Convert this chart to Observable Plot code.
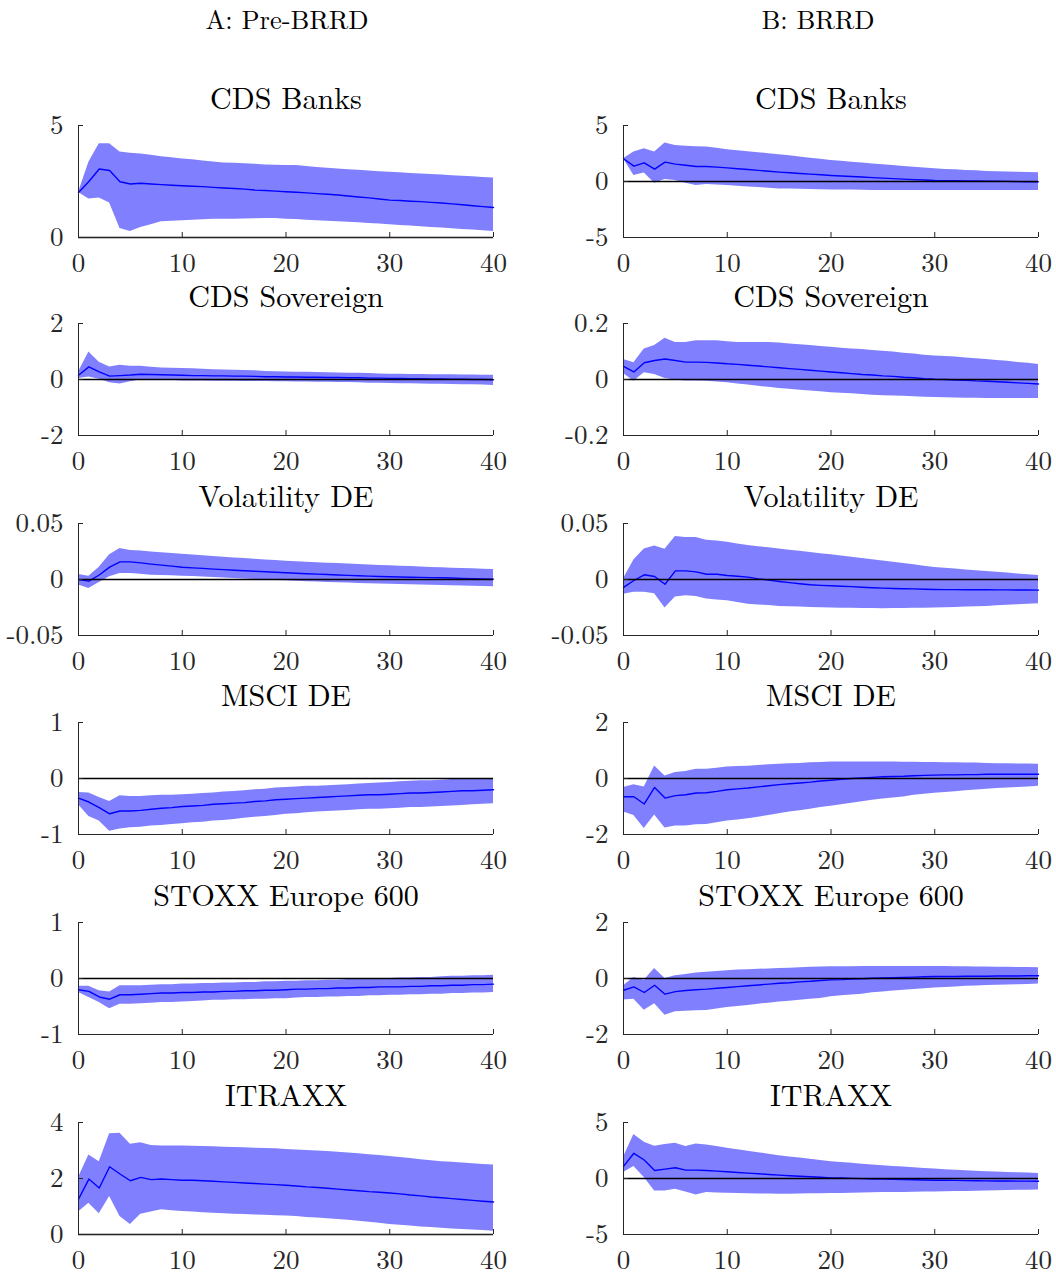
<!DOCTYPE html>
<html>
<head>
<meta charset="utf-8">
<script src="https://cdn.jsdelivr.net/npm/d3@7"></script>
<script src="https://cdn.jsdelivr.net/npm/@observablehq/plot@0.6"></script>
<style>
  html, body { margin: 0; padding: 0; background: #fff; }
  #wrap { position: relative; width: 1056px; height: 1272px; background: #fff; overflow: hidden; }
  .colhead { position: absolute; top: 3px; font-family: "Latin Modern Roman", "Liberation Serif", serif; font-size: 26.5px; line-height: 30px; color: #000; white-space: nowrap; transform: translateX(-50%); }
  .panel { position: absolute; }
</style>
</head>
<body>
<div id="wrap"></div>
<script>
// ---------- DATA ----------
const horizon = d3.range(0, 41);
const xTicks = [0, 10, 20, 30, 40];
const columnTitles = ["A: Pre-BRRD", "B: BRRD"];
const panelTitles = ["CDS Banks", "CDS Sovereign", "Volatility DE", "MSCI DE", "STOXX Europe 600", "ITRAXX"];
const yTicksPre  = [[0, 5], [-2, 0, 2], [-0.05, 0, 0.05], [-1, 0, 1], [-1, 0, 1], [0, 2, 4]];
const yTicksPost = [[-5, 0, 5], [-0.2, 0, 0.2], [-0.05, 0, 0.05], [-2, 0, 2], [-2, 0, 2], [-5, 0, 5]];

// CDS Banks, Pre-BRRD
const cdsBanksPreMean = [2.01,2.50,3.06,2.99,2.49,2.39,2.42,2.39,2.36,2.33,2.31,2.29,2.27,2.24,2.21,2.19,2.16,2.12,2.10,2.07,2.04,2.02,1.99,1.96,1.93,1.90,1.85,1.81,1.77,1.72,1.67,1.65,1.62,1.60,1.57,1.54,1.50,1.46,1.42,1.38,1.34];
const cdsBanksPreHi = [2.01,3.36,4.18,4.18,3.82,3.76,3.73,3.67,3.61,3.56,3.51,3.47,3.42,3.37,3.33,3.31,3.29,3.27,3.24,3.22,3.21,3.21,3.17,3.13,3.09,3.06,3.03,3.00,2.97,2.94,2.91,2.89,2.86,2.84,2.81,2.79,2.76,2.73,2.71,2.68,2.66];
const cdsBanksPreLo = [2.01,1.72,1.76,1.54,0.40,0.27,0.45,0.57,0.70,0.72,0.75,0.77,0.79,0.81,0.82,0.82,0.83,0.84,0.85,0.85,0.82,0.80,0.77,0.75,0.72,0.70,0.68,0.66,0.63,0.60,0.57,0.54,0.51,0.48,0.45,0.42,0.39,0.36,0.33,0.30,0.27];
// CDS Banks, BRRD
const cdsBanksPostMean = [2.03,1.37,1.67,1.10,1.73,1.55,1.45,1.34,1.34,1.28,1.22,1.14,1.07,0.99,0.92,0.84,0.78,0.72,0.66,0.60,0.54,0.49,0.44,0.40,0.35,0.30,0.26,0.21,0.17,0.13,0.09,0.08,0.07,0.05,0.04,0.03,0.02,0.01,-0.01,-0.02,-0.03];
const cdsBanksPostHi = [2.03,2.63,2.93,2.63,3.43,3.22,3.15,3.10,3.07,2.96,2.84,2.75,2.66,2.57,2.48,2.39,2.29,2.19,2.08,1.98,1.88,1.80,1.72,1.65,1.57,1.49,1.42,1.35,1.27,1.20,1.13,1.08,1.04,0.99,0.95,0.90,0.88,0.85,0.83,0.80,0.78];
const cdsBanksPostLo = [2.03,0.54,0.75,-0.15,0.18,0.09,-0.15,-0.36,-0.27,-0.31,-0.36,-0.42,-0.48,-0.54,-0.60,-0.66,-0.68,-0.70,-0.72,-0.74,-0.75,-0.76,-0.77,-0.78,-0.80,-0.81,-0.81,-0.81,-0.81,-0.81,-0.81,-0.81,-0.81,-0.81,-0.81,-0.81,-0.81,-0.81,-0.81,-0.81,-0.81];
// CDS Sovereign, Pre-BRRD
const cdsSovPreMean = [0.15,0.45,0.27,0.12,0.14,0.16,0.19,0.18,0.17,0.16,0.15,0.14,0.14,0.13,0.13,0.12,0.12,0.11,0.10,0.10,0.09,0.09,0.08,0.08,0.07,0.07,0.06,0.06,0.05,0.05,0.04,0.04,0.03,0.03,0.02,0.02,0.01,0.01,0.00,0.00,-0.01];
const cdsSovPreHi = [0.27,0.98,0.62,0.45,0.51,0.47,0.47,0.44,0.41,0.40,0.39,0.38,0.37,0.35,0.34,0.33,0.32,0.31,0.29,0.28,0.27,0.26,0.26,0.25,0.24,0.23,0.22,0.22,0.21,0.20,0.19,0.19,0.18,0.18,0.17,0.17,0.17,0.16,0.16,0.15,0.15];
const cdsSovPreLo = [0.04,0.09,0.01,-0.12,-0.16,-0.08,-0.02,-0.02,-0.02,-0.03,-0.05,-0.05,-0.05,-0.06,-0.06,-0.06,-0.07,-0.07,-0.07,-0.08,-0.08,-0.09,-0.09,-0.10,-0.10,-0.11,-0.11,-0.12,-0.13,-0.13,-0.14,-0.15,-0.15,-0.16,-0.17,-0.17,-0.18,-0.19,-0.19,-0.20,-0.21];
// CDS Sovereign, BRRD
const cdsSovPostMean = [0.047,0.027,0.060,0.068,0.073,0.068,0.062,0.062,0.061,0.059,0.056,0.054,0.051,0.048,0.045,0.042,0.039,0.036,0.033,0.030,0.027,0.024,0.021,0.018,0.016,0.013,0.011,0.008,0.006,0.003,0.001,0.000,-0.002,-0.003,-0.005,-0.006,-0.008,-0.010,-0.012,-0.014,-0.016];
const cdsSovPostHi = [0.071,0.060,0.109,0.121,0.147,0.132,0.132,0.138,0.138,0.138,0.135,0.132,0.132,0.132,0.132,0.130,0.127,0.124,0.121,0.118,0.115,0.112,0.109,0.107,0.104,0.101,0.098,0.094,0.091,0.087,0.084,0.082,0.080,0.077,0.074,0.071,0.068,0.065,0.061,0.058,0.054];
const cdsSovPostLo = [0.021,-0.006,0.024,0.018,0.004,-0.002,-0.005,-0.005,-0.006,-0.009,-0.012,-0.016,-0.020,-0.024,-0.028,-0.032,-0.035,-0.038,-0.041,-0.044,-0.047,-0.049,-0.051,-0.054,-0.056,-0.058,-0.059,-0.060,-0.062,-0.063,-0.064,-0.065,-0.066,-0.067,-0.067,-0.068,-0.068,-0.068,-0.068,-0.068,-0.068];
// Volatility DE, Pre-BRRD
const volPreMean = [0.0,-0.0015,0.004,0.011,0.0157,0.0157,0.0148,0.0137,0.0128,0.0119,0.011,0.0104,0.0099,0.0093,0.0088,0.0083,0.0078,0.0074,0.0069,0.0065,0.006,0.0056,0.0052,0.0048,0.0044,0.004,0.0037,0.0034,0.003,0.0027,0.0024,0.0022,0.002,0.0019,0.0017,0.0015,0.0013,0.001,0.0008,0.0005,0.0003];
const volPreHi = [0.0045,0.003,0.011,0.022,0.0276,0.026,0.0255,0.0246,0.0239,0.0232,0.0225,0.0219,0.0212,0.0206,0.0199,0.0193,0.0187,0.0181,0.0175,0.0169,0.0163,0.0159,0.0155,0.015,0.0146,0.0142,0.0138,0.0134,0.013,0.0126,0.0122,0.0118,0.0115,0.0111,0.0108,0.0104,0.0101,0.0098,0.0095,0.0092,0.0089];
const volPreLo = [-0.005,-0.008,-0.0027,0.0024,0.0053,0.0053,0.0047,0.0039,0.0036,0.0033,0.003,0.0026,0.0022,0.0017,0.0013,0.0009,0.0005,0.0,-0.0004,-0.0008,-0.0012,-0.0016,-0.0019,-0.0023,-0.0026,-0.003,-0.0032,-0.0035,-0.0037,-0.004,-0.0042,-0.0044,-0.0046,-0.0049,-0.0051,-0.0053,-0.0055,-0.0058,-0.006,-0.0063,-0.0065];
// Volatility DE, BRRD
const volPostMean = [-0.0071,-0.0009,0.0042,0.0027,-0.0042,0.0077,0.0077,0.0068,0.0047,0.0047,0.0036,0.0029,0.0021,0.0006,-0.0006,-0.0018,-0.0028,-0.0038,-0.0047,-0.0052,-0.0056,-0.006,-0.0064,-0.0069,-0.0073,-0.0077,-0.008,-0.0082,-0.0084,-0.0087,-0.0089,-0.009,-0.009,-0.0091,-0.0091,-0.0092,-0.0093,-0.0093,-0.0094,-0.0094,-0.0095];
const volPostHi = [0.0006,0.0175,0.0273,0.030,0.027,0.0383,0.0374,0.0374,0.035,0.0344,0.0332,0.0318,0.0303,0.0293,0.0283,0.0273,0.0262,0.0252,0.0241,0.0231,0.022,0.0209,0.0198,0.0188,0.0177,0.0166,0.0154,0.0142,0.0131,0.0119,0.0107,0.01,0.0093,0.0085,0.0078,0.0071,0.0064,0.0057,0.005,0.0043,0.0036];
const volPostLo = [-0.0131,-0.0113,-0.0113,-0.0128,-0.0255,-0.0157,-0.0145,-0.0151,-0.0175,-0.0182,-0.019,-0.0205,-0.022,-0.0227,-0.0233,-0.024,-0.0243,-0.0246,-0.0249,-0.0252,-0.0255,-0.0256,-0.0257,-0.0259,-0.026,-0.0261,-0.026,-0.0259,-0.0257,-0.0256,-0.0255,-0.0252,-0.0249,-0.0246,-0.0243,-0.024,-0.0235,-0.0231,-0.0226,-0.0222,-0.0217];
// MSCI DE, Pre-BRRD
const msciPreMean = [-0.35,-0.42,-0.52,-0.63,-0.58,-0.58,-0.57,-0.55,-0.53,-0.52,-0.50,-0.49,-0.48,-0.46,-0.45,-0.44,-0.43,-0.41,-0.40,-0.38,-0.37,-0.36,-0.35,-0.34,-0.33,-0.32,-0.31,-0.30,-0.29,-0.29,-0.28,-0.27,-0.26,-0.26,-0.25,-0.24,-0.23,-0.22,-0.22,-0.21,-0.20];
const msciPreHi = [-0.25,-0.26,-0.34,-0.41,-0.31,-0.32,-0.32,-0.31,-0.30,-0.30,-0.29,-0.28,-0.27,-0.26,-0.24,-0.23,-0.22,-0.20,-0.19,-0.17,-0.16,-0.15,-0.14,-0.14,-0.13,-0.12,-0.11,-0.10,-0.09,-0.08,-0.07,-0.06,-0.05,-0.04,-0.04,-0.03,-0.02,-0.02,-0.01,-0.01,0.00];
const msciPreLo = [-0.47,-0.68,-0.76,-0.94,-0.90,-0.88,-0.87,-0.85,-0.84,-0.82,-0.81,-0.79,-0.78,-0.76,-0.75,-0.73,-0.71,-0.69,-0.68,-0.66,-0.64,-0.63,-0.61,-0.60,-0.59,-0.58,-0.57,-0.56,-0.55,-0.55,-0.54,-0.53,-0.52,-0.52,-0.51,-0.50,-0.49,-0.48,-0.47,-0.46,-0.45];
// MSCI DE, BRRD
const msciPostMean = [-0.65,-0.65,-0.91,-0.32,-0.70,-0.61,-0.58,-0.52,-0.51,-0.46,-0.40,-0.37,-0.34,-0.30,-0.26,-0.22,-0.19,-0.16,-0.13,-0.09,-0.06,-0.03,0.00,0.02,0.04,0.06,0.07,0.08,0.10,0.11,0.12,0.13,0.13,0.14,0.14,0.15,0.15,0.15,0.15,0.15,0.15];
const msciPostHi = [-0.32,-0.22,-0.30,0.45,0.09,0.21,0.25,0.33,0.33,0.37,0.41,0.43,0.44,0.46,0.49,0.51,0.53,0.54,0.56,0.57,0.59,0.59,0.59,0.59,0.59,0.59,0.59,0.58,0.58,0.57,0.57,0.56,0.56,0.55,0.55,0.54,0.53,0.53,0.52,0.52,0.51];
const msciPostLo = [-1.20,-1.32,-1.79,-1.30,-1.77,-1.70,-1.70,-1.65,-1.64,-1.58,-1.52,-1.48,-1.44,-1.38,-1.32,-1.26,-1.20,-1.15,-1.10,-1.04,-0.99,-0.94,-0.88,-0.83,-0.78,-0.73,-0.70,-0.66,-0.60,-0.56,-0.53,-0.50,-0.47,-0.44,-0.41,-0.38,-0.36,-0.34,-0.32,-0.30,-0.28];
// STOXX Europe 600, Pre-BRRD
const stoxxPreMean = [-0.20,-0.23,-0.33,-0.37,-0.29,-0.29,-0.28,-0.27,-0.26,-0.26,-0.25,-0.25,-0.24,-0.24,-0.23,-0.23,-0.22,-0.22,-0.21,-0.21,-0.20,-0.19,-0.19,-0.18,-0.18,-0.17,-0.17,-0.16,-0.16,-0.15,-0.15,-0.15,-0.14,-0.14,-0.13,-0.13,-0.12,-0.12,-0.11,-0.11,-0.10];
const stoxxPreHi = [-0.14,-0.14,-0.22,-0.24,-0.13,-0.13,-0.13,-0.12,-0.11,-0.11,-0.10,-0.10,-0.09,-0.09,-0.08,-0.08,-0.07,-0.07,-0.06,-0.06,-0.05,-0.05,-0.04,-0.04,-0.03,-0.03,-0.02,-0.02,-0.01,-0.01,0.00,0.01,0.01,0.02,0.02,0.03,0.04,0.04,0.05,0.05,0.06];
const stoxxPreLo = [-0.25,-0.34,-0.43,-0.54,-0.46,-0.46,-0.45,-0.44,-0.43,-0.43,-0.42,-0.41,-0.40,-0.39,-0.39,-0.38,-0.38,-0.37,-0.37,-0.36,-0.36,-0.35,-0.34,-0.34,-0.33,-0.33,-0.32,-0.32,-0.31,-0.31,-0.30,-0.30,-0.29,-0.29,-0.28,-0.28,-0.27,-0.27,-0.26,-0.26,-0.25];
// STOXX Europe 600, BRRD
const stoxxPostMean = [-0.42,-0.30,-0.50,-0.24,-0.56,-0.47,-0.43,-0.40,-0.38,-0.35,-0.32,-0.29,-0.26,-0.23,-0.20,-0.17,-0.15,-0.12,-0.10,-0.07,-0.05,-0.04,-0.02,-0.01,0.01,0.02,0.03,0.04,0.05,0.06,0.07,0.07,0.07,0.08,0.08,0.08,0.09,0.09,0.09,0.10,0.10];
const stoxxPostHi = [-0.26,0.04,-0.06,0.36,0.00,0.10,0.14,0.20,0.22,0.25,0.28,0.30,0.31,0.33,0.34,0.36,0.37,0.38,0.40,0.41,0.42,0.42,0.42,0.43,0.43,0.43,0.43,0.43,0.43,0.43,0.43,0.43,0.42,0.42,0.41,0.41,0.40,0.40,0.39,0.39,0.38];
const stoxxPostLo = [-0.77,-0.74,-1.13,-0.90,-1.31,-1.19,-1.17,-1.15,-1.14,-1.09,-1.04,-1.00,-0.96,-0.92,-0.88,-0.84,-0.81,-0.78,-0.74,-0.71,-0.65,-0.62,-0.59,-0.56,-0.51,-0.48,-0.45,-0.42,-0.39,-0.37,-0.34,-0.32,-0.30,-0.28,-0.27,-0.25,-0.24,-0.23,-0.22,-0.21,-0.20];
// ITRAXX, Pre-BRRD
const itraxxPreMean = [1.26,1.98,1.66,2.42,2.16,1.92,2.04,1.96,1.98,1.96,1.94,1.94,1.92,1.90,1.88,1.86,1.84,1.82,1.80,1.78,1.76,1.73,1.70,1.68,1.65,1.62,1.59,1.56,1.53,1.51,1.48,1.45,1.41,1.38,1.34,1.31,1.28,1.25,1.22,1.19,1.16];
const itraxxPreHi = [2.04,2.84,2.60,3.60,3.62,3.22,3.28,3.18,3.16,3.16,3.16,3.15,3.14,3.13,3.12,3.11,3.10,3.08,3.07,3.06,3.04,3.02,3.00,2.98,2.96,2.94,2.91,2.88,2.85,2.82,2.79,2.75,2.71,2.67,2.63,2.60,2.58,2.55,2.53,2.50,2.48];
const itraxxPreLo = [0.80,1.12,0.74,1.36,0.64,0.36,0.72,0.80,0.88,0.85,0.82,0.80,0.78,0.76,0.74,0.72,0.71,0.70,0.69,0.67,0.66,0.64,0.61,0.59,0.56,0.54,0.51,0.47,0.44,0.40,0.36,0.33,0.30,0.27,0.25,0.22,0.20,0.18,0.16,0.14,0.12];
// ITRAXX, BRRD
const itraxxPostMean = [1.08,2.25,1.65,0.72,0.84,0.96,0.75,0.75,0.72,0.66,0.60,0.54,0.48,0.42,0.36,0.30,0.25,0.20,0.15,0.11,0.06,0.04,0.01,-0.01,-0.04,-0.06,-0.08,-0.10,-0.11,-0.13,-0.15,-0.16,-0.17,-0.19,-0.20,-0.21,-0.22,-0.22,-0.23,-0.23,-0.24];
const itraxxPostHi = [1.89,3.93,3.24,2.88,3.03,3.15,2.85,3.09,3.00,2.85,2.70,2.57,2.44,2.30,2.17,2.04,1.93,1.82,1.71,1.61,1.50,1.43,1.36,1.28,1.21,1.14,1.08,1.02,0.96,0.90,0.84,0.79,0.74,0.70,0.65,0.60,0.57,0.54,0.51,0.48,0.45];
const itraxxPostLo = [0.54,1.08,0.09,-1.11,-1.11,-0.96,-1.20,-1.47,-1.26,-1.29,-1.32,-1.34,-1.36,-1.38,-1.39,-1.41,-1.40,-1.39,-1.37,-1.36,-1.35,-1.33,-1.31,-1.29,-1.28,-1.26,-1.25,-1.24,-1.23,-1.21,-1.20,-1.18,-1.16,-1.15,-1.13,-1.11,-1.09,-1.07,-1.06,-1.04,-1.02];

const seriesPre = [
  [cdsBanksPreMean, cdsBanksPreLo, cdsBanksPreHi],
  [cdsSovPreMean, cdsSovPreLo, cdsSovPreHi],
  [volPreMean, volPreLo, volPreHi],
  [msciPreMean, msciPreLo, msciPreHi],
  [stoxxPreMean, stoxxPreLo, stoxxPreHi],
  [itraxxPreMean, itraxxPreLo, itraxxPreHi]
];
const seriesPost = [
  [cdsBanksPostMean, cdsBanksPostLo, cdsBanksPostHi],
  [cdsSovPostMean, cdsSovPostLo, cdsSovPostHi],
  [volPostMean, volPostLo, volPostHi],
  [msciPostMean, msciPostLo, msciPostHi],
  [stoxxPostMean, stoxxPostLo, stoxxPostHi],
  [itraxxPostMean, itraxxPostLo, itraxxPostHi]
];

// ---------- LAYOUT ----------
const wrap = document.getElementById("wrap");
const rowTop = [125, 323, 523, 722, 922, 1122];
const plotH = 112;
const plotW = 415;
const mTop = 46, mBottom = 40, mLeft = 78;
const colSvgLeft = [0, 545];
const colSvgWidth = [520, 511];
const colHeadX = [287, 818];
const FONT = "'Latin Modern Roman', 'Liberation Serif', serif";
const INK = "#262626";

columnTitles.forEach((t, c) => {
  const d = document.createElement("div");
  d.className = "colhead";
  d.style.left = colHeadX[c] + "px";
  d.textContent = t;
  wrap.appendChild(d);
});

function panel(col, row) {
  const [mean, lo, hi] = (col === 0 ? seriesPre : seriesPost)[row];
  const yTicks = (col === 0 ? yTicksPre : yTicksPost)[row];
  const yDomain = [yTicks[0], yTicks[yTicks.length - 1]];
  const data = horizon.map((t, i) => ({t, m: mean[i], lo: lo[i], hi: hi[i]}));
  const width = colSvgWidth[col];
  const svg = Plot.plot({
    width,
    height: mTop + plotH + mBottom,
    marginTop: mTop,
    marginBottom: mBottom,
    marginLeft: mLeft,
    marginRight: width - mLeft - plotW,
    style: {fontFamily: FONT, fontSize: "27px", color: INK, background: "transparent", overflow: "visible"},
    x: {domain: [0, 40], ticks: xTicks, tickSize: 0, tickPadding: 15, tickFormat: d => String(d), label: null},
    y: {domain: yDomain, ticks: yTicks, tickSize: 0, tickPadding: 15, tickFormat: d => String(d), label: null},
    marks: [
      Plot.areaY(data, {x: "t", y1: "lo", y2: "hi", fill: "#8080ff", fillOpacity: 1}),
      Plot.lineY(data, {x: "t", y: "m", stroke: "#0000ff", strokeWidth: 1.4}),
      Plot.ruleY([0], {stroke: "#000", strokeWidth: 1.3}),
      Plot.ruleX([0], {stroke: INK, strokeWidth: 1}),
      Plot.ruleY([yDomain[0]], {stroke: INK, strokeWidth: 1}),
      Plot.tickX(xTicks, {x: d => d, stroke: INK, strokeWidth: 1, insetTop: plotH - 5}),
      Plot.tickY(yTicks, {y: d => d, stroke: INK, strokeWidth: 1, insetRight: plotW - 5}),
      Plot.text([panelTitles[row]], {text: d => d, frameAnchor: "top", dy: -17, lineAnchor: "bottom", fontSize: 30, fill: "#000"})
    ]
  });
  const holder = document.createElement("div");
  holder.className = "panel";
  holder.style.left = colSvgLeft[col] + "px";
  holder.style.top = (rowTop[row] - mTop) + "px";
  holder.appendChild(svg);
  wrap.appendChild(holder);
}

for (let r = 0; r < 6; r++) { panel(0, r); panel(1, r); }
</script>
</body>
</html>
